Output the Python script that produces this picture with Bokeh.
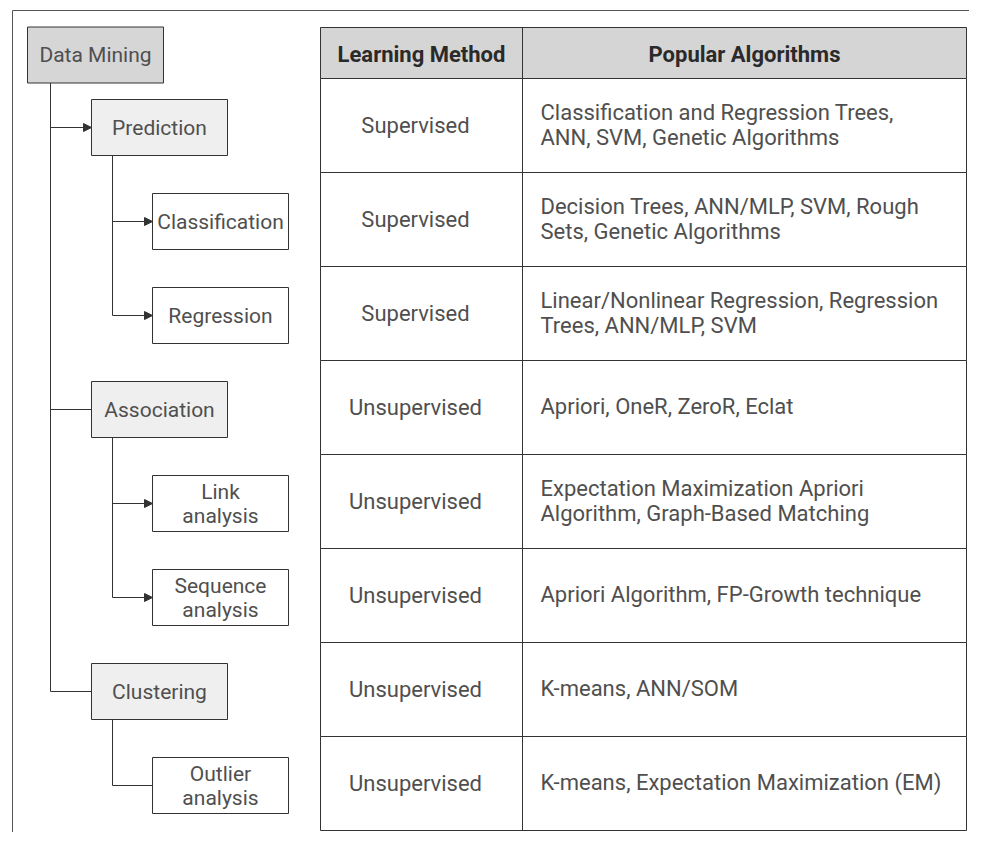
from bokeh.plotting import figure
from bokeh.models import Range1d, Arrow, NormalHead
from bokeh.core.properties import value
from bokeh.embed import file_html
from bokeh.resources import INLINE

# ---------------- data ----------------
tree_labels = ["Data Mining", "Prediction", "Classification", "Regression",
               "Association", "Link\nanalysis", "Sequence\nanalysis",
               "Clustering", "Outlier\nanalysis"]
tree_levels = [0, 1, 2, 2, 1, 2, 2, 1, 2]
tree_parents = [-1, 0, 1, 1, 0, 4, 4, 0, 7]
tree_arrow = [False, True, True, True, False, True, True, False, False]
tree_shade = ["dark", "light", "white", "white", "light", "white", "white", "light", "white"]

header_labels = ["Learning Method", "Popular Algorithms"]
learning_methods = ["Supervised", "Supervised", "Supervised", "Unsupervised",
                    "Unsupervised", "Unsupervised", "Unsupervised", "Unsupervised"]
algorithms = [
    "Classification and Regression Trees,\nANN, SVM, Genetic Algorithms",
    "Decision Trees, ANN/MLP, SVM, Rough\nSets, Genetic Algorithms",
    "Linear/Nonlinear Regression, Regression\nTrees, ANN/MLP, SVM",
    "Apriori, OneR, ZeroR, Eclat",
    "Expectation Maximization Apriori\nAlgorithm, Graph-Based Matching",
    "Apriori Algorithm, FP-Growth technique",
    "K-means, ANN/SOM",
    "K-means, Expectation Maximization (EM)",
]

# ---------------- layout ----------------
FONT = "Roboto"
FS = "22px"
TXT = "#4f4f4f"
LINE = "#333333"

TBL_L, TBL_M, TBL_R = 320, 522, 966
HDR_T, HDR_B = 27, 78
TBL_B = 830
ROW_H = (TBL_B - HDR_B) / len(learning_methods)
row_tops = [HDR_B + i * ROW_H for i in range(len(learning_methods))]
row_centers = [t + ROW_H / 2 for t in row_tops]

p = figure(width=969, height=832, x_range=Range1d(0, 969), y_range=Range1d(832, 0),
           output_backend="svg", toolbar_location=None, min_border=0)
p.axis.visible = False
p.grid.visible = False
p.outline_line_color = None
p.background_fill_color = "white"
p.border_fill_color = "white"

# outer frame (left and top edges)
p.line([12, 12], [10, 832], line_color="#555555", line_width=1)
p.line([12, 969], [10, 10], line_color="#555555", line_width=1)

# ---------------- table ----------------
p.quad(left=[TBL_L], right=[TBL_R], top=[HDR_T], bottom=[HDR_B],
       fill_color="#d5d5d5", line_color=LINE, line_width=1)
p.quad(left=[TBL_L] * len(row_tops), right=[TBL_R] * len(row_tops),
       top=row_tops, bottom=[t + ROW_H for t in row_tops],
       fill_color="white", line_color=LINE, line_width=1)
p.line([TBL_M, TBL_M], [HDR_T, TBL_B], line_color=LINE, line_width=1)

hdr_y = (HDR_T + HDR_B) / 2
p.text(x=[(TBL_L + TBL_M) / 2, (TBL_M + TBL_R) / 2], y=[hdr_y + 1, hdr_y + 1], text=header_labels,
       text_font=value(FONT), text_font_style="bold", text_font_size="22px",
       text_color="#2a2a2a", text_align="center", text_baseline="middle")

p.text(x=[(TBL_L + TBL_M) / 2 - 6] * len(learning_methods), y=row_centers, text=learning_methods,
       text_font=value(FONT), text_font_size=FS, text_color=TXT,
       text_align="center", text_baseline="middle")

LSP = 25
ax, ay, at = [], [], []
for rc, alg in zip(row_centers, algorithms):
    lines = alg.split("\n")
    n = len(lines)
    for j, ln in enumerate(lines):
        ax.append(TBL_M + 18)
        ay.append(rc - 1 + (j - (n - 1) / 2) * LSP)
        at.append(ln)
p.text(x=ax, y=ay, text=at, text_font=value(FONT), text_font_size=FS,
       text_color=TXT, text_align="left", text_baseline="middle")

# ---------------- tree ----------------
level_left = [27, 91, 152]
BOX_W, BOX_H = 136, 56
shade_color = {"dark": "#d6d6d6", "light": "#efefef", "white": "white"}
box_cy = [hdr_y + 2] + [rc + 2 for rc in row_centers]
box_l = [level_left[lv] for lv in tree_levels]

p.quad(left=box_l, right=[l + BOX_W for l in box_l],
       top=[c - BOX_H / 2 for c in box_cy], bottom=[c + BOX_H / 2 for c in box_cy],
       fill_color=[shade_color[s] for s in tree_shade], line_color=LINE, line_width=1)

tx, ty, tt = [], [], []
for l, c, lab in zip(box_l, box_cy, tree_labels):
    lines = lab.split("\n")
    n = len(lines)
    for j, ln in enumerate(lines):
        tx.append(l + BOX_W / 2)
        ty.append(c + (j - (n - 1) / 2) * 24)
        tt.append(ln)
p.text(x=tx, y=ty, text=tt, text_font=value(FONT), text_font_size="21px",
       text_color=TXT, text_align="center", text_baseline="middle")

# connectors
for par in sorted(set(tree_parents)):
    if par < 0:
        continue
    kids = [i for i, q in enumerate(tree_parents) if q == par]
    trunk_x = box_l[par] + 23 - (2 if par else 0)
    p.line([trunk_x, trunk_x], [box_cy[par] + BOX_H / 2, box_cy[kids[-1]]],
           line_color=LINE, line_width=1)
    for k in kids:
        if tree_arrow[k]:
            p.add_layout(Arrow(end=NormalHead(size=8, fill_color=LINE, line_color=LINE),
                               x_start=trunk_x, y_start=box_cy[k], x_end=box_l[k], y_end=box_cy[k],
                               line_color=LINE, line_width=1))
        else:
            p.line([trunk_x, box_l[k]], [box_cy[k], box_cy[k]], line_color=LINE, line_width=1)

open("out.html", "w").write(file_html(p, INLINE))
